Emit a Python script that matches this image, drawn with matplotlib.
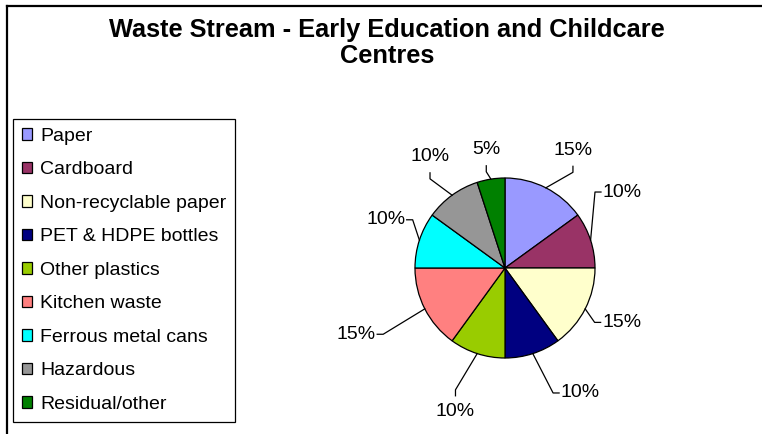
import matplotlib
matplotlib.use("Agg")
import matplotlib.pyplot as plt
import numpy as np

plt.rcParams['font.family'] = ['Liberation Sans', 'DejaVu Sans']

# Dane wykresu
categories = ["Paper", "Cardboard", "Non-recyclable paper", "PET & HDPE bottles",
              "Other plastics", "Kitchen waste", "Ferrous metal cans",
              "Hazardous", "Residual/other"]
values = [15, 10, 15, 10, 10, 15, 10, 10, 5]
colors = ["#9999FF", "#993366", "#FFFFCC", "#000080", "#99CC00",
          "#FF8080", "#00FFFF", "#969696", "#008000"]
title = "Waste Stream - Early Education and Childcare\nCentres"

# Układ etykiet (kąt w stopniach, odległość w promieniach, kierunek końcówki)
label_ang = [60, 33, -25, -59, -109, -156, 158, 124, 99]
label_rad = [1.51, 1.55, 1.43, 1.62, 1.69, 1.81, 1.43, 1.49, 1.33]
tick_dir = ['v', 'h', 'h', 'h', 'v', 'h', 'h', 'v', 'v']

W, H = 762, 434
fig = plt.figure(figsize=(W / 100, H / 100), dpi=100)
ax = fig.add_axes([0, 0, 1, 1])

cx, cy, R = 505, H - 268, 90
wedges, _ = ax.pie(values, colors=colors, startangle=90, counterclock=False,
                   center=(cx, cy), radius=R,
                   wedgeprops=dict(edgecolor='black', linewidth=0.9))

ax.set_xlim(0, W)
ax.set_ylim(0, H)
ax.set_aspect('equal')
ax.axis('off')

total = sum(values)
for w, v, ang, rad, td in zip(wedges, values, label_ang, label_rad, tick_dir):
    mid = np.deg2rad((w.theta1 + w.theta2) / 2)
    sx, sy = cx + R * np.cos(mid), cy + R * np.sin(mid)
    a = np.deg2rad(ang)
    lx, ly = cx + rad * R * np.cos(a), cy + rad * R * np.sin(a)
    if td == 'h':
        side = 1 if lx > cx else -1
        ex, ey = lx - side * 21, ly
        bx, by = lx - side * 27, ly
    else:
        side = 1 if ly > cy else -1
        ex, ey = lx, ly - side * 16
        bx, by = lx, ly - side * 22
    ax.plot([sx, bx, ex], [sy, by, ey], color='black', linewidth=0.9)
    ax.text(lx, ly, f"{round(v / total * 100)}%", ha='center', va='center',
            fontsize=14)

ax.text(387, H - 43, title, ha='center', va='center', fontsize=18.3,
        fontweight='bold', linespacing=1.1)

leg = ax.legend(wedges, categories, loc='upper left',
                bbox_to_anchor=(13 / W, 1 - 119 / H), bbox_transform=fig.transFigure,
                fontsize=14, frameon=True, fancybox=False, edgecolor='black',
                framealpha=1, borderpad=0.45, borderaxespad=0,
                handlelength=0.55, handleheight=0.55, handletextpad=0.4,
                labelspacing=0.85)
leg.get_frame().set_linewidth(0.9)

# Ramka wykresu
ax.plot([7, 7], [0, H - 6], color='black', linewidth=1.6, clip_on=False)
ax.plot([7, W], [H - 6, H - 6], color='black', linewidth=1.6, clip_on=False)

plt.savefig("out.png", dpi=100)
